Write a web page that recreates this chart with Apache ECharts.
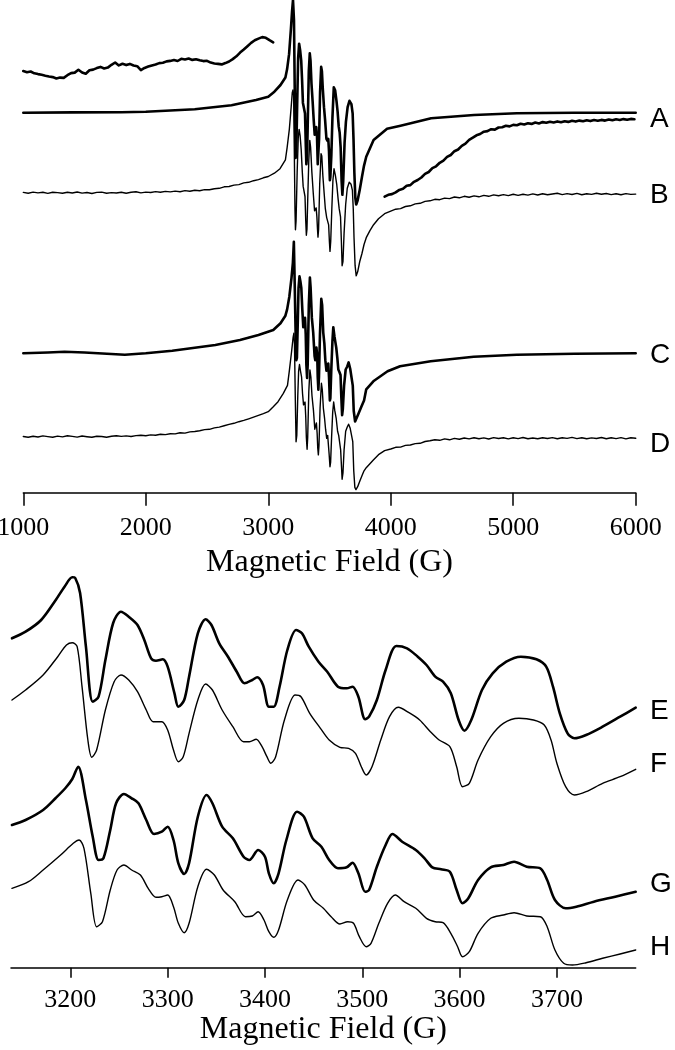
<!DOCTYPE html>
<html><head><meta charset="utf-8">
<script src="https://cdn.jsdelivr.net/npm/echarts@6/dist/echarts.min.js"></script>
<style>html,body{margin:0;padding:0;background:#fff}#c{width:675px;height:1050px}</style>
</head><body><div id="c"></div>
<script>
// ---------- axes / labels ----------
const topFieldRange = [1000, 6000];
const topTicks = [1000, 2000, 3000, 4000, 5000, 6000];
const bottomFieldRange = [3139, 3781];
const bottomTicks = [3200, 3300, 3400, 3500, 3600, 3700];
const axisTitle = 'Magnetic Field (G)';
const topLabels = ['A', 'B', 'C', 'D'];
const bottomLabels = ['E', 'F', 'G', 'H'];

// ---------- top panel (1000-6000 G), values = signal relative to each trace's baseline ----------
const traceA = [[1000,0],[1400,0.3],[1800,0.5],[2000,1],[2400,3.4],[2700,7.4],[2900,12.7],[3000,16],[3050,21],[3100,27.7],
[3140,35.2],[3154,43.6],[3170,58.5],[3185,83.9],[3194,100.8],[3202,112.7],[3205,111.7],[3210,92.7],[3216,24.7],[3223,-45.3],
[3229,-38.9],[3236,7.7],[3244,54.7],[3252,69],[3260,62.7],[3269,52.1],[3276,33.1],[3283,9.8],[3288,6.8],[3295,8.7],[3300,-0.8],
[3307,-34.6],[3311,-51.6],[3317,-43.1],[3322,-13.5],[3331,41.6],[3339,59.4],[3345,52.1],[3353,28.9],[3362,11.9],[3371,-7.2],
[3379,-21.9],[3387,-17.7],[3392,-14.3],[3398,-24.1],[3404,-51.6],[3409,-51.6],[3415,-26.2],[3423,20.4],[3432,45.8],[3438,41.6],
[3445,24.6],[3455,5.5],[3464,-7.2],[3475,-26.2],[3484,-28.3],[3490,-26.2],[3496,-38.9],[3503,-67.6],[3507,-64.3],[3515,-43.1],
[3524,-5],[3535,25.5],[3546,22.5],[3557,11.9],[3566,1.3],[3575,-13.5],[3583,-19.9],[3591,-34.6],[3599,-68.5],[3605,-82.1],
[3612,-68.5],[3623,-30.4],[3634,-9.2],[3648,5.5],[3663,11.9],[3679,8.6],[3689,-0.8],[3696,-26.2],[3703,-60],[3711,-85.4],
[3718,-91.8],[3730,-87.6],[3747,-77],[3765,-64.3],[3782,-52.9],[3800,-44],[3860,-27.3],[3970,-16],[4080,-13],[4330,-5.6],
[4680,-2.3],[5030,-0.6],[5500,-0.1],[6000,0]];

// expanded (x10) wings of A
const insetLeftStart = 1000, insetStep = 30;
const insetLeft = [41.7,40.5,41.2,39.4,38.6,37.9,37.0,36.2,35.6,34.3,35.1,34.8,37.5,39.6,40.1,42.9,40.2,38.9,42.4,43.1,
44.6,45.8,44.2,45.1,47.9,50.2,47.3,48.9,47.6,48.8,47.2,46.5,42.6,44.8,46.1,47.3,48.2,49.6,49.9,51.3,
51.8,52.6,51.7,53.9,53.2,54.1,52.8,53.5,52.4,51.6,51.9,50.1,49.2,48.8,48.3,49.6,51.2,53.6,56.4,60.1,
63.2,66.5,69.8,72.4,74.1,75.6,74.9,72.5,70.3];
const insetRightStart = 3950;
const insetRight = [-84.0,-82.1,-81.4,-79.6,-77.2,-76.1,-73.0,-72.4,-69.1,-67.3,-64.8,-61.2,-59.3,-55.4,-53.6,-50.1,-47.9,
-44.2,-42.3,-38.5,-36.8,-33.1,-30.9,-27.2,-25.0,-22.6,-21.3,-19.0,-18.4,-16.5,-16.9,-14.8,-14.6,-13.1,-13.7,-12.2,-12.5,
-11.0,-11.8,-10.6,-11.2,-9.9,-10.7,-9.4,-10.1,-9.0,-9.8,-8.7,-9.6,-8.5,-9.2,-8.1,-8.9,-7.9,-8.6,-7.6,-8.4,-7.3,-8.1,-7.2,
-7.9,-6.8,-7.6,-6.6,-7.3,-6.4,-7.1,-6.2,-6.5];

const noisyStep = 40, noisyLeftStart = 1000, noisyRightStart = 4000;
const traceBLeft = [0.3,-0.5,0.6,-0.2,0.4,-0.7,0.5,0.1,-0.6,0.4,-0.3,0.7,-0.4,0.2,-0.8,0.3,0.6,-0.5,0.1,-0.3,0.5,-0.6,0.4,0.9,
-0.2,0.6,0.2,1.1,0.5,1.3,0.8,1.6,1.0,2.1,1.5,2.4,2.0,3.1,2.9,4.0,4.4,5.9,6.2,7.6,8.1,9.8,10.4,12.0,13.1,14.9];
const traceBMid = [[3000,16.2],[3050,19.5],[3096,24],[3140,32.8],[3154,45],[3172,63.3],[3187,85.6],[3196,99.9],[3202,102.7],
[3207,97.8],[3212,49],[3218,-16],[3222,-37.1],[3227,-28.2],[3236,20.6],[3245,55.1],[3252,63.3],[3260,57.2],[3269,42.9],
[3278,20.6],[3285,6.3],[3294,6.3],[3300,-3.8],[3306,-28.2],[3311,-42.5],[3316,-36.4],[3322,-7.8],[3331,32.8],[3339,52.3],
[3346,45],[3356,20.6],[3367,0.2],[3378,-18.1],[3384,-18.1],[3391,-15.2],[3397,-24.2],[3402,-36.4],[3406,-44.4],[3411,-36.4],
[3420,8.4],[3431,38.9],[3437,36.8],[3446,16.6],[3457,-1.7],[3466,-16],[3477,-24.9],[3486,-26.1],[3493,-32.2],[3499,-48.6],
[3504,-58.7],[3510,-48.6],[3519,-16],[3528,12.4],[3537,23.9],[3548,17.3],[3559,8.4],[3570,-5.9],[3579,-16],[3590,-24.2],
[3597,-48.6],[3603,-73],[3610,-68.8],[3619,-40.4],[3632,-11.8],[3645,4.4],[3661,10.5],[3676,8.4],[3687,2.3],[3694,-16],
[3700,-44.4],[3709,-73],[3718,-83.1],[3730,-79.1],[3747,-68.8],[3765,-60.8],[3782,-51.8],[3800,-45],[3830,-38],[3860,-32],
[3900,-26],[3950,-21]];
const traceBRight = [-18.4,-16.5,-15.9,-13.8,-13.1,-11.2,-10.6,-8.7,-8.1,-6.6,-7.0,-5.4,-5.9,-4.3,-5.1,-3.6,-4.5,-3.2,-4.1,
-2.7,-3.6,-2.2,-3.1,-1.9,-2.9,-1.6,-2.7,-1.5,-2.4,-1.2,-2.3,-1.0,-2.1,-1.3,-0.6,-1.9,-0.9,-1.8,-0.7,-2.0,-1.1,-1.7,-0.5,
-1.6,-0.8,-1.9,-1.0,-2.1,-0.9,-1.7,-1.4];

const traceC = [[1000,0],[1200,0.8],[1337,1.6],[1500,0.8],[1829,-1.4],[2000,0],[2216,2.6],[2568,8.3],[2769,13.3],[2920,18.3],
[3041,23.3],[3100,30],[3140,37.6],[3154,43.9],[3172,56.6],[3190,75.7],[3201,90.5],[3209,111.6],[3216,69.3],[3223,22.7],
[3229,-6.9],[3234,-4.7],[3241,31.2],[3247,65.1],[3255,76.9],[3263,71.5],[3270,65.1],[3278,43.9],[3286,26.1],[3294,29.1],
[3300,35.4],[3306,18.5],[3311,-11.1],[3317,-24.7],[3322,-11.1],[3331,48.1],[3340,75.7],[3346,65.1],[3356,35.4],[3367,20.7],
[3378,-2.7],[3384,-6.9],[3393,5.8],[3400,-2.7],[3404,-23.8],[3409,-36.5],[3414,-23.8],[3422,18.5],[3433,54.4],[3440,48.1],
[3449,20.7],[3458,10],[3466,-6.9],[3475,-17.4],[3484,-16.2],[3490,-10.3],[3496,-23.8],[3503,-47.2],[3507,-45],[3515,-15.4],
[3524,12.2],[3531,26.1],[3541,16.4],[3555,5.8],[3564,-4.7],[3572,-16.2],[3581,-18.7],[3590,-21.7],[3597,-45],[3603,-61.9],
[3609,-55.5],[3619,-32.3],[3632,-16.2],[3645,-13.2],[3656,-9.1],[3669,-15.4],[3683,-17.4],[3690,-32.3],[3698,-57.7],
[3709,-68.2],[3720,-66.2],[3738,-59.9],[3760,-53.5],[3782,-47.2],[3800,-36],[3858,-28],[3974,-18],[4076,-13],[4326,-8],
[4677,-3.4],[5029,-1.4],[5500,-0.5],[6000,0]];

const traceDLeft = [0.2,-0.6,0.5,-0.3,0.8,0.1,-0.5,0.6,-0.2,0.9,0.3,-0.4,0.7,0.0,-0.6,0.5,0.2,-0.5,0.4,1.0,0.3,0.8,0.2,1.1,
1.5,0.9,1.8,1.4,2.5,2.1,3.0,2.8,3.9,3.6,4.8,5.2,5.9,7.1,7.4,8.8,9.6,10.9,12.3,13.4,15.0,16.3,17.9,19.6,21.4,23.1];
const traceDMid = [[3000,25],[3041,30],[3080,35],[3123,43.4],[3157,51.3],[3172,65.9],[3190,84.7],[3203,99.3],[3209,103.4],
[3214,93],[3221,36.8],[3227,-5],[3233,1.3],[3241,40.9],[3248,65.9],[3255,72.2],[3263,65.9],[3272,59.7],[3280,43],[3288,31.8],
[3294,32.5],[3300,34.7],[3306,20],[3311,-0.7],[3317,-12.5],[3322,-0.7],[3331,45],[3340,66.8],[3348,59.7],[3357,40.9],
[3369,26.3],[3380,7.5],[3387,8.4],[3393,13.8],[3399,3.4],[3404,-11.2],[3409,-18.2],[3414,-9.1],[3423,28.4],[3434,53.4],
[3441,47.2],[3450,28.4],[3460,18],[3468,7.5],[3477,-1.6],[3485,1.3],[3491,-0.7],[3497,-17.5],[3504,-30],[3509,-25.7],
[3517,-0.7],[3526,24.3],[3534,34.7],[3543,26.3],[3555,18],[3566,5.5],[3575,1.3],[3583,0],[3591,-13.2],[3598,-30],
[3603,-42.5],[3610,-36.2],[3619,-13.2],[3632,5.5],[3645,9.7],[3656,12.5],[3669,8.4],[3683,7.5],[3690,-5],[3698,-34.1],
[3707,-50.7],[3716,-52.9],[3730,-50],[3747,-44.5],[3765,-39.1],[3782,-34.1],[3800,-31],[3830,-27],[3858,-23.3],[3900,-18],
[3950,-14]];
const traceDRight = [-12.3,-10.6,-10.4,-8.7,-8.3,-6.9,-6.6,-4.8,-4.1,-3.0,-3.6,-2.2,-3.1,-1.7,-2.6,-1.3,-2.2,-1.0,-2.1,-1.2,
-2.3,-0.9,-1.8,-1.1,-2.2,-1.0,-1.9,-0.8,-2.0,-1.3,-2.1,-1.0,-1.8,-0.9,-2.0,-1.1,-1.7,-0.7,-1.9,-1.0,-2.1,-1.2,-1.8,-0.8,
-2.0,-1.1,-1.9,-0.9,-2.2,-1.0,-1.6];

// ---------- bottom panel (expanded 3140-3780 G) ----------
const traceE = [[3140,61.7],[3154,68.3],[3170,80],[3185,100],[3194,113.3],[3202,122.7],[3205,122],[3210,107],[3216,53.3],
[3223,-1.7],[3229,3.3],[3236,40],[3244,77],[3252,88.3],[3260,83.3],[3269,75],[3276,60],[3283,41.7],[3288,39.3],[3295,40.7],
[3300,33.3],[3307,6.7],[3311,-6.7],[3317,0],[3322,23.3],[3331,66.7],[3339,80.7],[3345,75],[3353,56.7],[3362,43.3],[3371,28.3],
[3379,16.7],[3387,20],[3392,22.7],[3398,15],[3404,-6.7],[3409,-6.7],[3415,13.3],[3423,50],[3432,70],[3438,66.7],[3445,53.3],
[3455,38.3],[3464,28.3],[3475,13.3],[3484,11.7],[3490,13.3],[3496,3.3],[3503,-19.3],[3507,-16.7],[3515,0],[3524,30],[3535,54],
[3546,51.7],[3557,43.3],[3566,35],[3575,23.3],[3583,18.3],[3591,6.7],[3599,-20],[3605,-30.7],[3612,-20],[3623,10],[3634,26.7],
[3648,38.3],[3663,43.3],[3679,40.7],[3689,33.3],[3696,13.3],[3703,-13.3],[3711,-33.3],[3718,-38.3],[3730,-35],[3747,-26.7],
[3765,-16.7],[3781,-7.7]];
const traceF = [[3140,60],[3154,70],[3172,85],[3187,103.3],[3196,115],[3202,117.3],[3207,113.3],[3212,73.3],[3218,20],
[3222,2.7],[3227,10],[3236,50],[3245,78.3],[3252,85],[3260,80],[3269,68.3],[3278,50],[3285,38.3],[3294,38.3],[3300,30],
[3306,10],[3311,-1.7],[3316,3.3],[3322,26.7],[3331,60],[3339,76],[3346,70],[3356,50],[3367,33.3],[3378,18.3],[3384,18.3],
[3391,20.7],[3397,13.3],[3402,3.3],[3406,-3.3],[3411,3.3],[3420,40],[3431,65],[3437,63.3],[3446,46.7],[3457,31.7],[3466,20],
[3477,12.7],[3486,11.7],[3493,6.7],[3499,-6.7],[3504,-15],[3510,-6.7],[3519,20],[3528,43.3],[3537,52.7],[3548,47.3],[3559,40],
[3570,28.3],[3579,20],[3590,13.3],[3597,-6.7],[3603,-26.7],[3610,-23.3],[3619,0],[3632,23.3],[3645,36.7],[3661,41.7],
[3676,40],[3687,35],[3694,20],[3700,-3.3],[3709,-26.7],[3718,-35],[3730,-31.7],[3747,-23.3],[3765,-16.7],[3781,-9.3]];
const traceG = [[3140,55],[3154,60],[3172,70],[3185,82],[3195,92],[3202,101],[3208,113.3],[3216,80],[3223,43.3],[3229,20],
[3234,21.7],[3241,50],[3247,76.7],[3255,86],[3263,81.7],[3270,76.7],[3278,60],[3286,46],[3294,48.3],[3300,53.3],[3306,40],
[3311,16.7],[3317,6],[3322,16.7],[3331,63.3],[3340,85],[3346,76.7],[3356,53.3],[3367,41.7],[3378,23.3],[3384,20],[3393,30],
[3400,23.3],[3404,6.7],[3409,-3.3],[3414,6.7],[3422,40],[3433,68.3],[3440,63.3],[3449,41.7],[3458,33.3],[3466,20],[3475,11.7],
[3484,12.7],[3490,17.3],[3496,6.7],[3503,-11.7],[3507,-10],[3515,13.3],[3524,35],[3531,46],[3541,38.3],[3555,30],[3564,21.7],
[3572,12.7],[3581,10.7],[3590,8.3],[3597,-10],[3603,-23.3],[3609,-18.3],[3619,0],[3632,12.7],[3645,15],[3656,18.3],
[3669,13.3],[3683,11.7],[3690,0],[3698,-20],[3709,-28.3],[3720,-26.7],[3738,-21.7],[3760,-16.7],[3781,-11.7]];
const traceH = [[3140,51.7],[3157,58.3],[3172,70],[3190,85],[3203,96.7],[3209,100],[3214,91.7],[3221,46.7],[3227,13.3],
[3233,18.3],[3241,50],[3248,70],[3255,75],[3263,70],[3272,65],[3280,51.7],[3288,42.7],[3294,43.3],[3300,45],[3306,33.3],
[3311,16.7],[3317,7.3],[3322,16.7],[3331,53.3],[3340,70.7],[3348,65],[3357,50],[3369,38.3],[3380,23.3],[3387,24],[3393,28.3],
[3399,20],[3404,8.3],[3409,2.7],[3414,10],[3423,40],[3434,60],[3441,55],[3450,40],[3460,31.7],[3468,23.3],[3477,16],
[3485,18.3],[3491,16.7],[3497,3.3],[3504,-6.7],[3509,-3.3],[3517,16.7],[3526,36.7],[3534,45],[3543,38.3],[3555,31.7],
[3566,21.7],[3575,18.3],[3583,17.3],[3591,6.7],[3598,-6.7],[3603,-16.7],[3610,-11.7],[3619,6.7],[3632,21.7],[3645,25],
[3656,27.3],[3669,24],[3683,23.3],[3690,13.3],[3698,-10],[3707,-23.3],[3716,-25],[3730,-22.7],[3747,-18.3],[3765,-14],
[3781,-10]];

// ---------- layout ----------
const TOP = {left: 23.3, width: 612.4, top: 0, height: 492.7};
const BOT = {left: 11, width: 624.7, top: 560, height: 407.7};
const topOffsets = {A: 380, B: 300, C: 139.4, D: 56};
const botOffsets = {E: 267.7, F: 207.7, G: 87.7, H: 27.7};
const labelY = {A: 119, B: 195, C: 355, D: 444, E: 711, F: 764, G: 884, H: 947.5};
const THICK = 2.6, THIN = 1.4;

function seq(start, step, vals) { return vals.map((v, i) => [start + step * i, v]); }
function shift(pairs, off) { return pairs.map(p => [p[0], p[1] + off]); }

function line(name, data, width, axis, smooth) {
  return {
    name, type: 'line', data, xAxisIndex: axis, yAxisIndex: axis, symbol: 'none', smooth: smooth || false,
    clip: axis === 1, lineStyle: {color: '#000', width, join: 'round', cap: 'round'}, silent: true, animation: false
  };
}

const serif = '"Liberation Serif","Times New Roman",serif';
const sans = '"Liberation Sans",Arial,sans-serif';

function xAxis(gridIndex, range, ticks, opts) {
  return {
    type: 'value', gridIndex, min: range[0], max: range[1],
    name: axisTitle, nameLocation: 'middle', nameGap: opts.nameGap,
    nameTextStyle: {fontFamily: serif, fontSize: 32, color: '#000'},
    axisLine: {show: true, onZero: false, lineStyle: {color: '#000', width: 1.5}},
    axisTick: {show: true, length: opts.tickLen, customValues: ticks, lineStyle: {color: '#000', width: 1.5}},
    axisLabel: {show: true, customValues: ticks, margin: opts.margin, fontFamily: serif, fontSize: 26, color: '#000',
      showMinLabel: true, showMaxLabel: true, hideOverlap: false, formatter: v => String(v)},
    splitLine: {show: false}
  };
}

const chart = echarts.init(document.getElementById('c'), null, {renderer: 'canvas'});
chart.setOption({
  backgroundColor: '#fff',
  animation: false,
  grid: [
    {left: TOP.left, width: TOP.width, top: TOP.top, height: TOP.height, containLabel: false, outerBoundsMode: 'none'},
    {left: BOT.left, width: BOT.width, top: BOT.top, height: BOT.height, containLabel: false, outerBoundsMode: 'none'}
  ],
  xAxis: [
    xAxis(0, topFieldRange, topTicks, {nameGap: 54, tickLen: 13, margin: 22}),
    xAxis(1, bottomFieldRange, bottomTicks, {nameGap: 46, tickLen: 10, margin: 19})
  ],
  yAxis: [
    {type: 'value', gridIndex: 0, min: 0, max: TOP.height, show: false},
    {type: 'value', gridIndex: 1, min: 0, max: BOT.height, show: false}
  ],
  series: [
    line('A', shift(traceA, topOffsets.A), THICK, 0),
    line('A x10 low', shift(seq(insetLeftStart, insetStep, insetLeft), topOffsets.A), THICK, 0),
    line('A x10 high', shift(seq(insetRightStart, insetStep, insetRight), topOffsets.A), THICK, 0),
    line('B', shift(seq(noisyLeftStart, noisyStep, traceBLeft).concat(traceBMid, seq(noisyRightStart, noisyStep, traceBRight)), topOffsets.B), THIN, 0),
    line('C', shift(traceC, topOffsets.C), THICK, 0),
    line('D', shift(seq(noisyLeftStart, noisyStep, traceDLeft).concat(traceDMid, seq(noisyRightStart, noisyStep, traceDRight)), topOffsets.D), THIN, 0),
    line('E', shift(traceE, botOffsets.E), THICK, 1, 0.3),
    line('F', shift(traceF, botOffsets.F), THIN, 1, 0.3),
    line('G', shift(traceG, botOffsets.G), THICK, 1, 0.3),
    line('H', shift(traceH, botOffsets.H), THIN, 1, 0.3)
  ],
  graphic: topLabels.concat(bottomLabels).map(k => ({
    type: 'text', left: 650, top: labelY[k] - 14, silent: true,
    style: {text: k, fontFamily: sans, fontSize: 28, fill: '#000'}
  }))
});
</script></body></html>
